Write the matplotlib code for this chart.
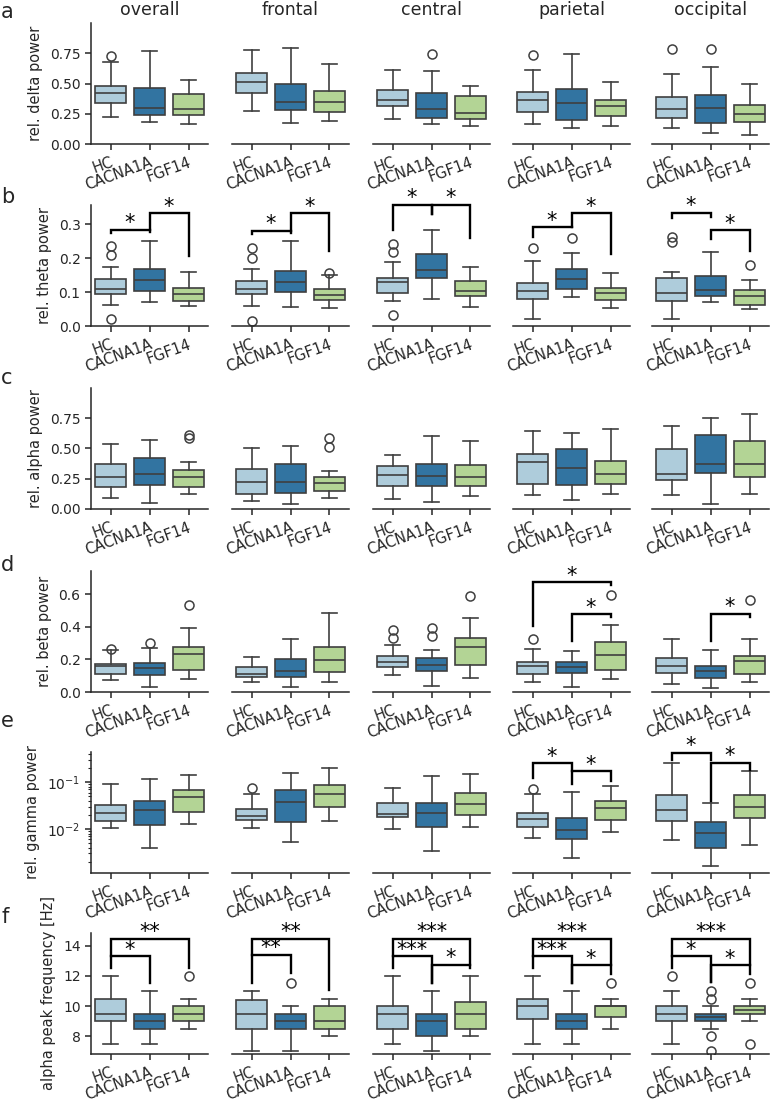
import colorsys
import matplotlib
matplotlib.use("Agg")
import matplotlib.pyplot as plt
from matplotlib.colors import to_rgb

# ------------------------------------------------------------------ data
regions = ["overall", "frontal", "central", "parietal", "occipital"]
groups = ["HC", "CACNA1A", "FGF14"]
group_colors = ["#a6cee3", "#1f78b4", "#b2df8a"]
panel_letters = ["a", "b", "c", "d", "e", "f"]
ylabels = ["rel. delta power", "rel. theta power", "rel. alpha power",
           "rel. beta power", "rel. gamma power", "alpha peak frequency [Hz]"]

# per region -> per group: [whisker low, Q1, median, Q3, whisker high]
delta_box = [
    [[.226, .342, .419, .482, .675], [.18, .24, .30, .46, .77], [.165, .24, .29, .41, .525]],
    [[.276, .425, .51, .585, .775], [.17, .28, .345, .50, .795], [.19, .262, .345, .435, .665]],
    [[.21, .31, .36, .445, .61], [.168, .212, .29, .422, .60], [.148, .205, .255, .395, .478]],
    [[.162, .262, .365, .43, .615], [.132, .198, .335, .455, .745], [.15, .228, .315, .36, .512]],
    [[.13, .218, .293, .392, .575], [.094, .173, .295, .405, .64], [.077, .182, .245, .32, .498]],
]
delta_fliers = [
    [[.73], [], []], [[], [], []], [[], [.742], []], [[.737], [], []], [[.786], [.783], []],
]

theta_box = [
    [[.063, .094, .109, .137, .173], [.07, .103, .134, .168, .251], [.058, .075, .093, .111, .16]],
    [[.058, .094, .11, .133, .168], [.055, .099, .129, .162, .25], [.053, .077, .09, .11, .15]],
    [[.073, .096, .128, .14, .188], [.08, .142, .166, .211, .282], [.056, .087, .103, .133, .175]],
    [[.021, .08, .104, .126, .192], [.085, .11, .138, .167, .216], [.052, .076, .096, .112, .155]],
    [[.02, .075, .098, .142, .158], [.071, .089, .107, .146, .218], [.05, .063, .088, .107, .135]],
]
theta_fliers = [
    [[.02, .21, .236], [], []], [[.015, .2, .23], [], [.157]], [[.032, .218, .242], [], []],
    [[.23], [.26], []], [[.248, .262], [], [.18]],
]

alpha_box = [
    [[.095, .183, .265, .374, .537], [.049, .196, .286, .423, .567], [.12, .185, .262, .325, .39]],
    [[.065, .128, .224, .33, .505], [.041, .134, .224, .368, .518], [.095, .15, .218, .262, .311]],
    [[.085, .188, .281, .355, .445], [.06, .188, .275, .374, .605], [.106, .194, .265, .36, .565]],
    [[.112, .21, .387, .458, .646], [.071, .196, .335, .494, .624], [.12, .207, .292, .395, .66]],
    [[.112, .237, .289, .499, .682], [.041, .295, .376, .611, .753], [.12, .265, .376, .565, .788]],
]
alpha_fliers = [
    [[], [], [.585, .615]], [[], [], [.515, .586]], [[], [], []], [[], [], []], [[], [], []],
]

beta_box = [
    [[.075, .112, .158, .174, .255], [.033, .106, .147, .178, .271], [.079, .137, .234, .276, .396]],
    [[.06, .095, .112, .155, .216], [.033, .095, .13, .201, .323], [.064, .122, .197, .276, .483]],
    [[.102, .153, .182, .22, .286], [.039, .128, .164, .209, .255], [.085, .168, .276, .334, .454]],
    [[.062, .11, .158, .182, .265], [.033, .116, .151, .182, .251], [.081, .137, .226, .307, .41]],
    [[.05, .114, .158, .209, .327], [.023, .085, .126, .158, .255], [.064, .112, .189, .22, .323]],
]
beta_fliers = [
    [[.267], [.298], [.537]], [[], [], []], [[.33, .38], [.344, .396], [.59]],
    [[.327], [], [.593]], [[], [], [.566]],
]

gamma_box = [
    [[.0107, .0147, .0219, .0331, .092], [.0040, .0121, .0257, .0389, .117], [.0125, .0226, .0487, .067, .14]],
    [[.0107, .0159, .0187, .027, .055], [.0052, .0138, .0371, .067, .156], [.0149, .029, .055, .085, .199]],
    [[.0100, .018, .0206, .0365, .076], [.0034, .0112, .0223, .036, .137], [.0112, .0196, .0337, .059, .149]],
    [[.0064, .011, .0164, .0222, .055], [.0024, .0061, .0095, .0175, .063], [.0088, .0159, .0287, .039, .083]],
    [[.0057, .0147, .0257, .0536, .256], [.0016, .0040, .0081, .0138, .0365], [.0045, .0175, .029, .052, .175]],
]
gamma_fliers = [
    [[], [], []], [[.074], [], []], [[], [], []], [[.070], [], []], [[], [], []],
]

freq_box = [
    [[7.5, 9.0, 9.5, 10.5, 12.0], [7.5, 8.5, 9.0, 9.5, 11.0], [8.5, 9.0, 9.5, 10.0, 10.5]],
    [[7.0, 8.5, 9.5, 10.375, 11.0], [7.0, 8.5, 9.0, 9.5, 10.0], [8.0, 8.5, 9.0, 10.0, 10.5]],
    [[7.5, 8.5, 9.5, 10.0, 12.0], [7.0, 8.0, 9.0, 9.5, 11.0], [8.0, 8.5, 9.5, 10.25, 12.0]],
    [[7.5, 9.125, 10.0, 10.5, 12.0], [7.5, 8.5, 9.0, 9.5, 11.0], [8.5, 9.25, 10.0, 10.0, 10.5]],
    [[7.5, 9.0, 9.5, 10.0, 11.0], [8.5, 9.0, 9.25, 9.5, 10.0], [9.0, 9.5, 9.75, 10.0, 10.5]],
]
freq_fliers = [
    [[], [], [12.0]], [[], [11.5], []], [[], [], []], [[], [], [11.5]],
    [[12.0], [7.0, 8.0, 10.5, 11.0], [7.5, 11.5]],
]

# significance brackets: (region, group i, group j, leg i bottom, bracket height, leg j bottom, label)
theta_sig = [
    (0, 0, 1, .275, .283, .276, "*"), (0, 1, 2, .283, .331, .205, "*"),
    (1, 0, 1, .272, .280, .273, "*"), (1, 1, 2, .280, .331, .222, "*"),
    (2, 0, 1, .282, .357, .330, "*"), (2, 1, 2, .330, .357, .258, "*"),
    (3, 0, 1, .262, .290, .290, "*"), (3, 1, 2, .290, .331, .213, "*"),
    (4, 0, 1, .318, .333, .320, "*"), (4, 1, 2, .255, .282, .222, "*"),
]
beta_sig = [
    (3, 0, 2, .406, .674, .655, "*"), (3, 1, 2, .313, .477, .458, "*"),
    (4, 1, 2, .313, .479, .458, "*"),
]
gamma_sig = [
    (3, 0, 1, .123, .253, .170, "*"), (3, 1, 2, .090, .170, .108, "*"),
    (4, 0, 1, .300, .420, .300, "*"), (4, 1, 2, .040, .260, .180, "*"),
]
freq_sig = [
    (0, 0, 1, 12.5, 13.3, 11.5, "*"), (0, 0, 2, 13.3, 14.45, 12.5, "**"),
    (1, 0, 1, 11.5, 13.4, 12.2, "**"), (1, 0, 2, 13.4, 14.45, 11.1, "**"),
    (2, 0, 1, 12.5, 13.3, 11.5, "***"), (2, 1, 2, 11.5, 12.75, 12.5, "*"),
    (2, 0, 2, 13.3, 14.45, 12.75, "***"),
    (3, 0, 1, 12.5, 13.3, 11.5, "***"), (3, 1, 2, 11.5, 12.7, 12.1, "*"),
    (3, 0, 2, 13.3, 14.45, 12.7, "***"),
    (4, 0, 1, 12.5, 13.3, 11.6, "*"), (4, 1, 2, 11.6, 12.7, 12.1, "*"),
    (4, 0, 2, 13.3, 14.45, 12.7, "***"),
]

row_boxes = [delta_box, theta_box, alpha_box, beta_box, gamma_box, freq_box]
row_fliers = [delta_fliers, theta_fliers, alpha_fliers, beta_fliers, gamma_fliers, freq_fliers]
row_sig = [[], theta_sig, [], beta_sig, gamma_sig, freq_sig]
row_ylim = [(0, 1.0), (0, 0.356), (0, 1.0), (0, 0.743), (0.00115, 0.44), (6.82, 14.85)]
row_yticks = [[0, .25, .5, .75], [0, .1, .2, .3], [0, .25, .5, .75], [0, .2, .4, .6], None, [8, 10, 12, 14]]
row_yticklabels = [["0.00", "0.25", "0.50", "0.75"], ["0.0", "0.1", "0.2", "0.3"],
                   ["0.00", "0.25", "0.50", "0.75"], ["0.0", "0.2", "0.4", "0.6"], None,
                   ["8", "10", "12", "14"]]
row_log = [False, False, False, False, True, False]

# ------------------------------------------------------------------ style
TXT = "#262626"
plt.rcParams.update({
    "font.family": "DejaVu Sans",
    "text.color": TXT, "axes.labelcolor": TXT,
    "xtick.color": TXT, "ytick.color": TXT, "axes.edgecolor": TXT,
    "axes.linewidth": 1.1, "xtick.major.width": 1.1, "ytick.major.width": 1.1,
    "xtick.major.size": 4, "ytick.major.size": 4,
    "ytick.minor.size": 2.3, "ytick.minor.width": 0.8,
    "xtick.labelsize": 10.5, "ytick.labelsize": 10, "axes.labelsize": 10.5,
})


def desat(c, p=0.75):
    h, l, s = colorsys.rgb_to_hls(*to_rgb(c))
    return colorsys.hls_to_rgb(h, l, s * p)


box_colors = [desat(c) for c in group_colors]
LINE = "#3f3f3f"
LW = 1.2

W, H = 771, 1105
fig = plt.figure(figsize=(W / 100, H / 100), dpi=100)

col_left = [91, 232, 373, 513, 652]
col_w = 117
row_top = [23, 205, 388, 571, 752, 933]
row_h = 121
letter_y = [12, 197, 378, 565, 721, 917]

positions = list(range(len(groups)))

for r in range(6):
    fig.text(1 / W, 1 - letter_y[r] / H, panel_letters[r], fontsize=15,
             ha="left", va="center")
    for c in range(5):
        ax = fig.add_axes([col_left[c] / W, 1 - (row_top[r] + row_h) / H,
                           col_w / W, row_h / H])
        stats = []
        for g in range(3):
            lo, q1, med, q3, hi = row_boxes[r][c][g]
            stats.append(dict(whislo=lo, q1=q1, med=med, q3=q3, whishi=hi,
                              fliers=row_fliers[r][c][g]))
        bp = ax.bxp(stats, positions=positions, widths=0.8, patch_artist=True,
                    showfliers=True,
                    boxprops=dict(edgecolor=LINE, linewidth=LW),
                    medianprops=dict(color=LINE, linewidth=LW),
                    whiskerprops=dict(color=LINE, linewidth=LW),
                    capprops=dict(color=LINE, linewidth=LW),
                    flierprops=dict(marker="o", markerfacecolor="none",
                                    markeredgecolor=LINE, markersize=6.5,
                                    markeredgewidth=1.1))
        for patch, col in zip(bp["boxes"], box_colors):
            patch.set_facecolor(col)

        if row_log[r]:
            ax.set_yscale("log")
        ax.set_ylim(*row_ylim[r])
        ax.set_xlim(-0.5, 2.5)
        ax.set_xticks(positions)
        ax.set_xticklabels(groups, rotation=20, ha="right",
                           rotation_mode="anchor")
        ax.spines["top"].set_visible(False)
        ax.spines["right"].set_visible(False)
        if c == 0:
            if row_yticks[r] is not None:
                ax.set_yticks(row_yticks[r])
                ax.set_yticklabels(row_yticklabels[r])
            ax.set_ylabel(ylabels[r], labelpad=5)
        else:
            ax.spines["left"].set_visible(False)
            ax.tick_params(axis="y", which="both", left=False, labelleft=False)
        if r == 0:
            ax.set_title(regions[c], fontsize=12.5, pad=6)

        for (reg, i, j, yi, h, yj, lab) in row_sig[r]:
            if reg != c:
                continue
            ax.plot([i, i, j, j], [yi, h, h, yj], color="black", lw=1.7,
                    clip_on=False, solid_joinstyle="miter", zorder=5)
            ax.annotate(lab, xy=((i + j) / 2, h), xytext=(0, -2.5),
                        textcoords="offset points", ha="center", va="bottom",
                        fontsize=15, color="black", annotation_clip=False)

fig.savefig("out.png", dpi=100)
